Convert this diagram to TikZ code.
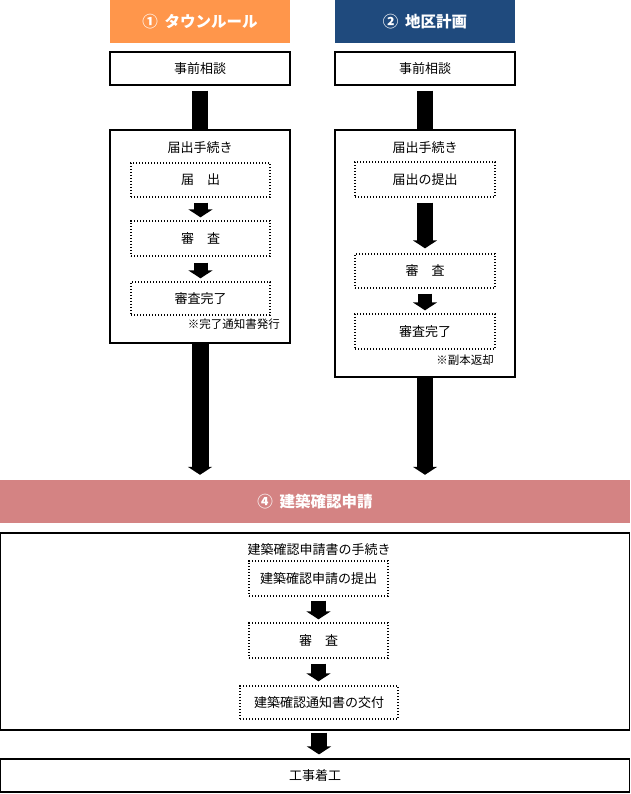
\documentclass[tikz,border=0pt]{standalone}
\usepackage{fontspec}
\setmainfont{Noto Sans CJK JP}
\usetikzlibrary{arrows.meta}
\definecolor{orangeH}{HTML}{FF964B}
\definecolor{blueH}{HTML}{1F4A7D}
\definecolor{pinkH}{HTML}{D48383}
\begin{document}
\begin{tikzpicture}[x=1pt,y=-1pt,
  txt/.style={font=\fontsize{13}{15}\selectfont, inner sep=0pt},
  notetxt/.style={font=\fontsize{11.5}{13}\selectfont, inner sep=0pt},
  header/.style={minimum width=180pt, minimum height=43pt, inner sep=0pt, text=white,
    font=\fontsize{15.5}{17}\selectfont\bfseries},
  band/.style={minimum width=630pt, minimum height=43pt, inner sep=0pt, fill=pinkH, text=white,
    font=\fontsize{15.5}{17}\selectfont\bfseries},
  solidbox/.style={draw=black, line width=1.2pt, inner sep=0pt, txt},
  dotbox/.style={draw=black, line width=1.3pt, dash pattern=on 1.3pt off 1.7pt, inner sep=0pt, txt},
  bar/.style={line width=16pt, line cap=butt},
  bigarrow/.style={line width=#1, line cap=butt, -{Triangle[width=24pt,length=8pt]}},
  bigarrow/.default=15pt
]
\useasboundingbox (0,0) rectangle (630,794);

% headers
\node[header, fill=orangeH] (h1) at (200,21.5) {①\hspace{0.45em}タウンルール};
\node[header, fill=blueH] (h2) at (425,21.5) {②\hspace{0.45em}地区計画};

% pre-consultation
\node[solidbox, minimum width=180pt, minimum height=33pt] (c1) at (200,68.5) {事前相談};
\node[solidbox, minimum width=180pt, minimum height=33pt] (c2) at (425,68.5) {事前相談};

% left procedure box
\node[solidbox, minimum width=180pt, minimum height=213pt] (b1) at (200,236.5) {};
\node[txt] (t1) at (200,148) {届出手続き};
\node[dotbox, minimum width=139pt, minimum height=34pt] (d1) at (200.5,180) {届　出};
\node[dotbox, minimum width=139pt, minimum height=35pt] (d2) at (200.5,238.5) {審　査};
\node[dotbox, minimum width=139pt, minimum height=33pt] (d3) at (200.5,298.5) {審査完了};
\node[notetxt, anchor=east] (n1) at (280,324) {※完了通知書発行};

% right procedure box
\node[solidbox, minimum width=180pt, minimum height=247pt] (b2) at (425,253.5) {};
\node[txt] (t2) at (425,148) {届出手続き};
\node[dotbox, minimum width=140pt, minimum height=35pt] (e1) at (425,179.5) {届出の提出};
\node[dotbox, minimum width=140pt, minimum height=34pt] (e2) at (425,271) {審　査};
\node[dotbox, minimum width=140pt, minimum height=35pt] (e3) at (425,331.5) {審査完了};
\node[notetxt, anchor=east] (n2) at (494,360) {※副本返却};

% band
\node[band] (p) at (315,501.5) {④\hspace{0.45em}建築確認申請};

% building confirmation box
\node[solidbox, minimum width=628.8pt, minimum height=197pt] (B) at (315,631.5) {};
\node[txt] (T) at (319,550) {建築確認申請書の手続き};
\node[dotbox, minimum width=139pt, minimum height=35pt] (f1) at (318.5,578.5) {建築確認申請の提出};
\node[dotbox, minimum width=139pt, minimum height=35pt] (f2) at (318.5,640.5) {審　査};
\node[dotbox, minimum width=158pt, minimum height=33pt] (f3) at (319,702.5) {建築確認通知書の交付};

% start of works
\node[solidbox, minimum width=628.8pt, minimum height=33pt] (g) at (315,775.5) {工事着工};

% connectors
\draw[bar] ([yshift=-5pt]c1.south) -- (b1.north);
\draw[bar] ([yshift=-5pt]c2.south) -- (b2.north);

\draw[bigarrow=14pt, shorten <=5pt, shorten >=3pt] (d1.south) -- (d2.north);
\draw[bigarrow=14pt, shorten <=6pt, shorten >=3pt] (d2.south) -- (d3.north);
\draw[bigarrow=16pt, shorten <=5pt, shorten >=5pt] (e1.south) -- (e2.north);
\draw[bigarrow=14pt, shorten <=5pt, shorten >=3pt] (e2.south) -- (e3.north);

\draw[bigarrow=17pt, shorten >=5pt] (b1.south) -- (b1.south |- p.north);
\draw[bigarrow=16pt, shorten >=5pt] (b2.south) -- (b2.south |- p.north);

\draw[bigarrow=15pt, shorten <=4pt, shorten >=3pt] (f1.south) -- (f1.south |- f2.north);
\draw[bigarrow=15pt, shorten <=5pt, shorten >=4pt] (f2.south) -- (f2.south |- f3.north);
\draw[bigarrow=16pt, shorten <=2pt, shorten >=4pt] (B.south -| f3.south) -- (f3.south |- g.north);
\end{tikzpicture}
\end{document}
